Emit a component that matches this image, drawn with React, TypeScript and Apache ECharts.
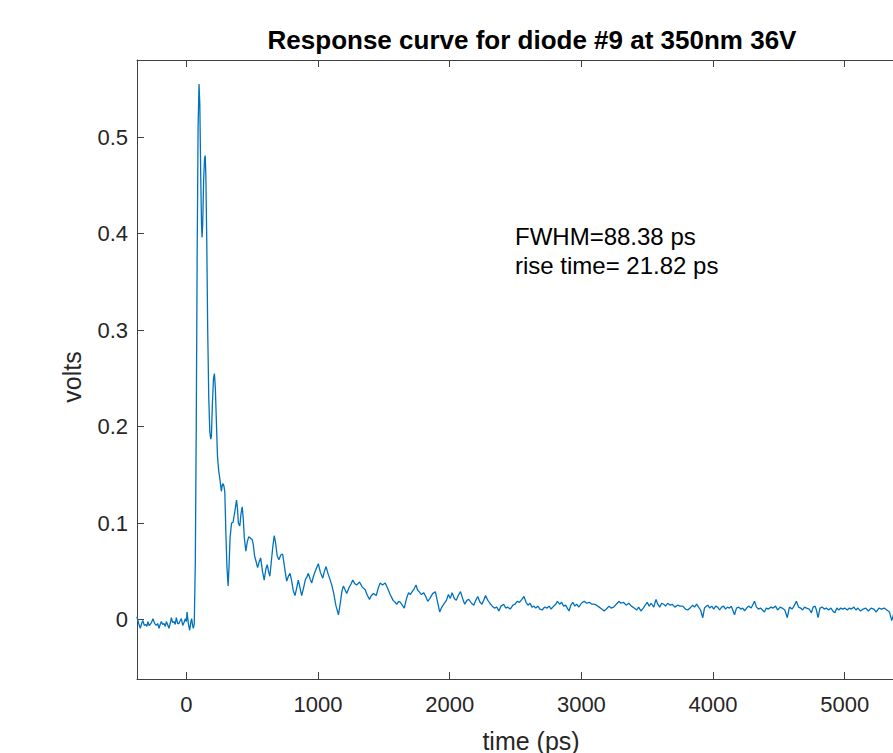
import React, { useEffect, useRef } from 'react';
import * as echarts from 'echarts';

const TITLE = 'Response curve for diode #9 at 350nm 36V';
const X_NAME = 'time (ps)';
const Y_NAME = 'volts';
const NOTES = ['FWHM=88.38 ps', 'rise time= 21.82 ps'];
const X_TICKS = [0, 1000, 2000, 3000, 4000, 5000];
const Y_TICKS = [0, 0.1, 0.2, 0.3, 0.4, 0.5];
const X_RANGE = [-375, 5625];
const Y_RANGE = [-0.0615, 0.58];

// [time (ps), volts]
const baseline: [number, number][] = [
  [-376, 0.003], [-362, -0.004], [-350, -0.009], [-340, -0.004], [-330, -0.001], [-320, -0.006],
  [-310, -0.005], [-300, -0.007], [-292, -0.002], [-283, -0.006], [-275, -0.005], [-265, -0.003],
  [-254, 0.001], [-246, -0.002], [-240, -0.004], [-229, -0.006], [-218, -0.004], [-208, -0.009],
  [-199, -0.005], [-190, -0.002], [-180, -0.005], [-170, -0.004], [-160, -0.007], [-152, -0.002],
  [-140, -0.006], [-132, -0.009], [-123, -0.004], [-114, 0.002], [-104, -0.003], [-94, -0.002],
  [-85, -0.005], [-76, 0.002], [-66, -0.004], [-56, -0.004], [-47, -0.001], [-38, 0.001],
  [-28, -0.006], [-18, -0.003], [-8, 0.001], [0, -0.002], [5, 0.008], [15, -0.004], [25, -0.011],
  [33, -0.003], [40, 0.001], [47, -0.006], [53, -0.009],
];

const pulse: [number, number][] = [
  [60, -0.004], [68, 0.06], [75, 0.2], [82, 0.38], [89, 0.51], [96, 0.555], [102, 0.535],
  [109, 0.46], [115, 0.41], [119, 0.396], [124, 0.41], [131, 0.455], [138, 0.478], [143, 0.481],
  [148, 0.46], [155, 0.39], [162, 0.3], [170, 0.23], [178, 0.195], [185, 0.187], [190, 0.19],
  [198, 0.225], [206, 0.25], [213, 0.255], [220, 0.24], [228, 0.205], [236, 0.17], [245, 0.155],
  [255, 0.145], [266, 0.133], [273, 0.14], [279, 0.141], [286, 0.138], [292, 0.132],
];

const decay: [number, number][] = [
  [300, 0.09], [308, 0.055], [317, 0.035], [324, 0.055], [332, 0.085], [343, 0.1], [355, 0.101],
  [368, 0.112], [381, 0.124], [388, 0.115], [395, 0.1], [406, 0.097], [415, 0.11], [424, 0.117],
  [432, 0.105], [440, 0.085], [452, 0.071], [463, 0.081], [474, 0.086], [490, 0.084], [500, 0.083],
  [508, 0.078], [518, 0.066], [530, 0.06], [541, 0.054], [553, 0.06], [564, 0.064], [578, 0.05],
  [591, 0.041], [603, 0.052], [614, 0.057], [624, 0.05], [634, 0.045], [645, 0.06], [656, 0.075],
  [667, 0.087], [677, 0.08], [690, 0.066], [703, 0.062], [717, 0.067], [731, 0.068], [740, 0.06],
  [750, 0.05], [762, 0.04], [775, 0.045], [787, 0.048], [800, 0.04], [812, 0.03], [825, 0.025],
  [838, 0.033], [850, 0.041], [863, 0.033], [876, 0.025], [890, 0.033], [905, 0.042], [915, 0.044],
  [926, 0.048], [940, 0.042], [952, 0.038], [965, 0.045], [978, 0.05], [990, 0.054], [1002, 0.058],
  [1018, 0.049], [1036, 0.043], [1048, 0.05], [1061, 0.055], [1075, 0.048], [1090, 0.042],
  [1104, 0.036], [1118, 0.028], [1135, 0.015], [1155, 0.005], [1170, 0.018], [1182, 0.03],
  [1193, 0.035], [1205, 0.031], [1218, 0.027], [1235, 0.033], [1250, 0.037], [1264, 0.041],
  [1280, 0.037], [1295, 0.036], [1315, 0.039], [1335, 0.034], [1358, 0.031], [1375, 0.025],
  [1391, 0.021], [1405, 0.025], [1421, 0.027], [1442, 0.025], [1458, 0.033], [1472, 0.038],
  [1490, 0.036], [1510, 0.038], [1530, 0.032], [1548, 0.026], [1570, 0.02], [1585, 0.018],
  [1599, 0.016], [1612, 0.019], [1625, 0.018], [1640, 0.015], [1655, 0.012], [1672, 0.022],
  [1688, 0.028], [1700, 0.026], [1715, 0.029], [1730, 0.032], [1744, 0.036], [1755, 0.031],
  [1767, 0.029], [1785, 0.026], [1802, 0.028], [1818, 0.024], [1833, 0.019], [1850, 0.022],
  [1870, 0.027], [1891, 0.029], [1905, 0.02], [1924, 0.008], [1940, 0.013], [1955, 0.016],
  [1975, 0.02], [1990, 0.026], [2005, 0.022], [2018, 0.028],
];

const tail: [number, number][] = [
  [2035, 0.022], [2050, 0.02], [2065, 0.025], [2082, 0.029], [2098, 0.022], [2114, 0.016],
  [2130, 0.02], [2145, 0.021], [2165, 0.017], [2183, 0.015], [2198, 0.02], [2213, 0.024],
  [2230, 0.018], [2245, 0.016], [2258, 0.02], [2272, 0.025], [2290, 0.02], [2305, 0.017],
  [2323, 0.014], [2340, 0.012], [2358, 0.013], [2373, 0.009], [2390, 0.014], [2410, 0.016],
  [2425, 0.012], [2440, 0.013], [2460, 0.011], [2480, 0.015], [2495, 0.016], [2513, 0.019],
  [2530, 0.018], [2548, 0.021], [2564, 0.024], [2580, 0.018], [2594, 0.015], [2610, 0.017],
  [2625, 0.013], [2640, 0.014], [2653, 0.012], [2670, 0.014], [2685, 0.011], [2703, 0.01],
  [2720, 0.013], [2740, 0.012], [2755, 0.014], [2770, 0.011], [2790, 0.014], [2805, 0.016],
  [2818, 0.019], [2835, 0.016], [2850, 0.018], [2865, 0.014], [2880, 0.015], [2893, 0.012],
  [2906, 0.009], [2920, 0.015], [2935, 0.018], [2950, 0.014], [2965, 0.016], [2980, 0.013],
  [3000, 0.017], [3021, 0.019], [3040, 0.017], [3060, 0.018], [3080, 0.016], [3097, 0.016],
  [3115, 0.015], [3135, 0.013], [3155, 0.011], [3173, 0.009], [3190, 0.011], [3210, 0.014],
  [3225, 0.012], [3245, 0.013], [3265, 0.016], [3287, 0.019], [3300, 0.017], [3320, 0.018],
  [3340, 0.015], [3360, 0.017], [3380, 0.014], [3401, 0.012], [3420, 0.01], [3435, 0.013],
  [3452, 0.009], [3470, 0.012], [3485, 0.015], [3500, 0.018], [3515, 0.014], [3530, 0.017],
  [3550, 0.013], [3567, 0.021], [3580, 0.016], [3595, 0.013], [3610, 0.017], [3625, 0.016],
  [3640, 0.014], [3655, 0.017], [3675, 0.015], [3690, 0.016], [3710, 0.013], [3730, 0.015],
  [3750, 0.014], [3770, 0.014], [3790, 0.011], [3808, 0.01], [3825, 0.012], [3845, 0.015],
  [3860, 0.013], [3875, 0.016], [3890, 0.013], [3905, 0.01], [3922, 0.002], [3935, 0.012],
  [3950, 0.014], [3960, 0.015], [3975, 0.012], [3990, 0.014], [4005, 0.011], [4020, 0.014],
  [4035, 0.013], [4050, 0.01], [4065, 0.013], [4080, 0.014], [4095, 0.011], [4110, 0.013],
  [4125, 0.012], [4138, 0.014], [4150, 0.01], [4163, 0.005], [4178, 0.012], [4195, 0.013],
  [4210, 0.011], [4225, 0.012], [4240, 0.009], [4255, 0.012], [4270, 0.014], [4290, 0.012],
  [4315, 0.019], [4330, 0.013], [4345, 0.011], [4360, 0.012], [4375, 0.01], [4390, 0.008],
  [4405, 0.012], [4420, 0.011], [4440, 0.013], [4455, 0.012], [4475, 0.014], [4490, 0.01],
  [4510, 0.013], [4525, 0.012], [4545, 0.01], [4564, 0.002], [4580, 0.013], [4600, 0.011],
  [4615, 0.014], [4633, 0.019], [4650, 0.013], [4665, 0.012], [4680, 0.01], [4695, 0.013],
  [4710, 0.012], [4730, 0.011], [4747, 0.007], [4760, 0.013], [4775, 0.014], [4785, 0.01],
  [4798, 0.002], [4812, 0.012], [4828, 0.013], [4845, 0.011], [4860, 0.012], [4878, 0.01],
  [4895, 0.012], [4910, 0.009], [4925, 0.007], [4940, 0.012], [4955, 0.01], [4970, 0.012],
  [4985, 0.011], [5000, 0.012], [5020, 0.01], [5035, 0.012], [5050, 0.011], [5070, 0.013],
  [5085, 0.01], [5100, 0.012], [5120, 0.009], [5140, 0.011], [5160, 0.012], [5180, 0.009],
  [5200, 0.012], [5220, 0.011], [5240, 0.008], [5260, 0.012], [5280, 0.011], [5300, 0.012],
  [5320, 0.01], [5340, 0.008], [5357, -0.001], [5370, 0.005], [5390, 0.008], [5420, 0.01],
  [5460, 0.009], [5500, 0.011], [5540, 0.008], [5580, 0.01], [5625, 0.009],
];

const FONT = '"Liberation Sans", Arial, Helvetica, sans-serif';
const AXIS_COLOR = '#404040';
const TEXT_COLOR = '#262626';

export default function App() {
  const ref = useRef<HTMLDivElement>(null);

  useEffect(() => {
    if (!ref.current) return;
    const chart = echarts.init(ref.current, null, { renderer: 'svg' });

    const baseAxis = {
      type: 'value' as const,
      splitLine: { show: false },
      axisLine: { show: true, onZero: false, lineStyle: { color: AXIS_COLOR, width: 1 } },
    };

    chart.setOption({
      animation: false,
      backgroundColor: '#ffffff',
      grid: { left: 137, top: 60, width: 790, height: 619, containLabel: false },
      xAxis: [
        {
          ...baseAxis,
          position: 'bottom',
          min: X_RANGE[0],
          max: X_RANGE[1],
          axisTick: { show: true, inside: true, length: 7, customValues: X_TICKS, lineStyle: { color: AXIS_COLOR } },
          axisLabel: {
            show: true,
            customValues: X_TICKS,
            fontSize: 22,
            color: TEXT_COLOR,
            fontFamily: FONT,
            margin: 14,
            formatter: (v: number) => String(v),
          },
        },
        {
          ...baseAxis,
          position: 'top',
          min: X_RANGE[0],
          max: X_RANGE[1],
          axisTick: { show: true, inside: true, length: 7, customValues: X_TICKS, lineStyle: { color: AXIS_COLOR } },
          axisLabel: { show: false },
        },
      ],
      yAxis: [
        {
          ...baseAxis,
          position: 'left',
          min: Y_RANGE[0],
          max: Y_RANGE[1],
          axisTick: { show: true, inside: true, length: 7, customValues: Y_TICKS, lineStyle: { color: AXIS_COLOR } },
          axisLabel: {
            show: true,
            customValues: Y_TICKS,
            fontSize: 22,
            color: TEXT_COLOR,
            fontFamily: FONT,
            margin: 9,
            formatter: (v: number) => String(Math.round(v * 10) / 10),
          },
        },
        {
          ...baseAxis,
          position: 'right',
          min: Y_RANGE[0],
          max: Y_RANGE[1],
          axisTick: { show: true, inside: true, length: 7, customValues: Y_TICKS, lineStyle: { color: AXIS_COLOR } },
          axisLabel: { show: false },
        },
      ],
      series: [
        {
          type: 'line',
          xAxisIndex: 0,
          yAxisIndex: 0,
          data: [...baseline, ...pulse, ...decay, ...tail],
          showSymbol: false,
          symbol: 'none',
          smooth: false,
          clip: true,
          lineStyle: { color: '#0072BD', width: 1.3 },
        },
      ],
      graphic: [
        {
          type: 'text',
          x: 532,
          y: 40,
          style: {
            text: TITLE,
            fontSize: 26,
            fontWeight: 'bold',
            fontFamily: FONT,
            fill: '#000000',
            align: 'center',
            verticalAlign: 'middle',
          },
        },
        {
          type: 'text',
          x: 72,
          y: 377,
          rotation: Math.PI / 2,
          style: {
            text: Y_NAME,
            fontSize: 25,
            fontFamily: FONT,
            fill: TEXT_COLOR,
            align: 'center',
            verticalAlign: 'middle',
          },
        },
        {
          type: 'text',
          x: 531,
          y: 741,
          style: {
            text: X_NAME,
            fontSize: 25,
            fontFamily: FONT,
            fill: TEXT_COLOR,
            align: 'center',
            verticalAlign: 'middle',
          },
        },
        {
          type: 'text',
          x: 515,
          y: 236,
          style: {
            text: NOTES[0],
            fontSize: 24,
            fontFamily: FONT,
            fill: '#000000',
            align: 'left',
            verticalAlign: 'middle',
          },
        },
        {
          type: 'text',
          x: 515,
          y: 265,
          style: {
            text: NOTES[1],
            fontSize: 24,
            fontFamily: FONT,
            fill: '#000000',
            align: 'left',
            verticalAlign: 'middle',
          },
        },
      ],
    });

    return () => chart.dispose();
  }, []);

  return (
    <div
      style={{
        position: 'fixed',
        left: 0,
        top: 0,
        width: 893,
        height: 753,
        overflow: 'hidden',
        background: '#ffffff',
      }}
    >
      <div ref={ref} style={{ width: 940, height: 753 }} />
    </div>
  );
}
